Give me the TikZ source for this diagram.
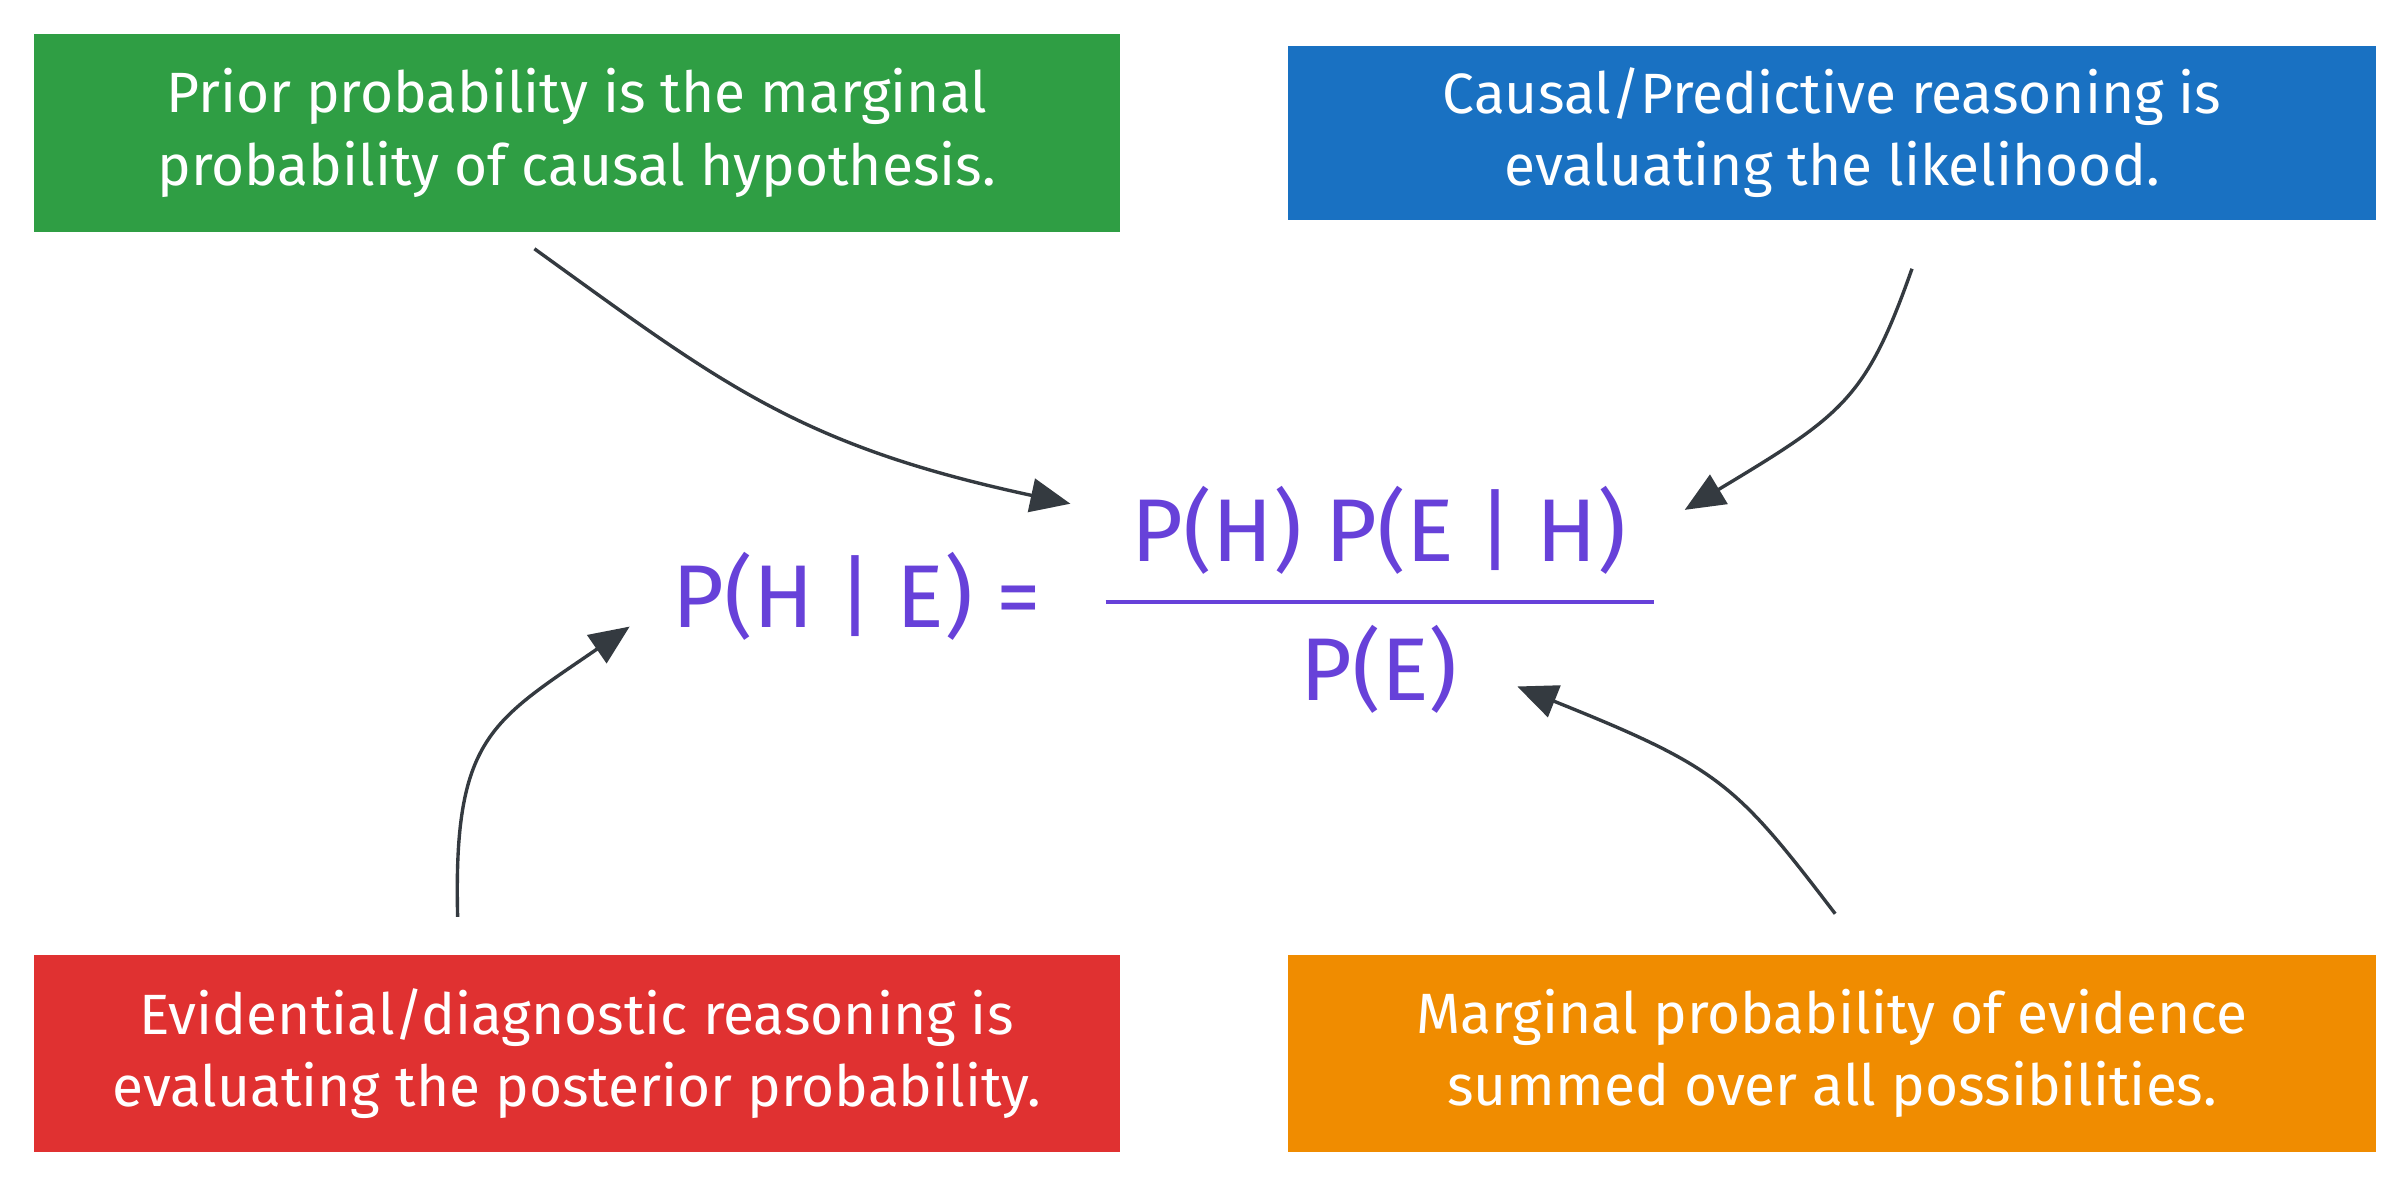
\documentclass[tikz,border=0pt]{standalone}
\usepackage{fontspec}
\setmainfont{Fira Sans}
\usetikzlibrary{arrows.meta}
\definecolor{cgreen}{HTML}{2F9E44}
\definecolor{cblue}{HTML}{1971C2}
\definecolor{cred}{HTML}{E03131}
\definecolor{corange}{HTML}{F08C00}
\definecolor{cpurple}{HTML}{6741D9}
\definecolor{cdark}{HTML}{343A40}
\begin{document}
\begin{tikzpicture}[x=1pt,y=-1pt,
  boxtxt/.style={text=white,font=\fontsize{37}{47}\selectfont,align=center},
  formula/.style={text=cpurple,font=\fontsize{58}{60}\selectfont},
  conn/.style={draw=cdark,line width=2.2pt,-{Triangle[length=26pt,width=22pt]}}]
\fill[white] (0,0) rectangle (1568,772);
\useasboundingbox (0,0) rectangle (1568,772);
\fill[cgreen] (22,22) rectangle (729,151);
\node[boxtxt] (g) at (375.5,86.5) {Prior probability is the marginal\\probability of causal hypothesis.};
\fill[cblue] (839,30) rectangle (1547,143);
\node[boxtxt] (b) at (1193,86.5) {Causal/Predictive reasoning is\\evaluating the likelihood.};
\fill[cred] (22,622) rectangle (729,750);
\node[boxtxt] (r) at (375.5,686) {Evidential/diagnostic reasoning is\\evaluating the posterior probability.};
\fill[corange] (839,622) rectangle (1547,750);
\node[boxtxt] (o) at (1193,686) {Marginal probability of evidence\\summed over all possibilities.};
\node[formula] (lhs) at (558,388) {P(H | E) =};
\node[formula] (num) at (898,345) {P(H) P(E | H)};
\node[formula] (den) at (898,436) {P(E)};
\draw[cpurple,line width=2.5pt] (720,392) -- (1077,392);
\coordinate (s1) at (348,162); \coordinate (e1) at (697,328);
\coordinate (s2) at (1245,175); \coordinate (e2) at (1097,332);
\coordinate (s3) at (298,597); \coordinate (e3) at (410,408);
\coordinate (s4) at (1195,595); \coordinate (e4) at (988,447);
\draw[conn] (s1) .. controls (470,250) and (520,290) .. (e1);
\draw[conn] (s2) .. controls (1215,260) and (1200,270) .. (e2);
\draw[conn] (s3) .. controls (295,480) and (320,470) .. (e3);
\draw[conn] (s4) .. controls (1130,510) and (1120,500) .. (e4);
\end{tikzpicture}
\end{document}
